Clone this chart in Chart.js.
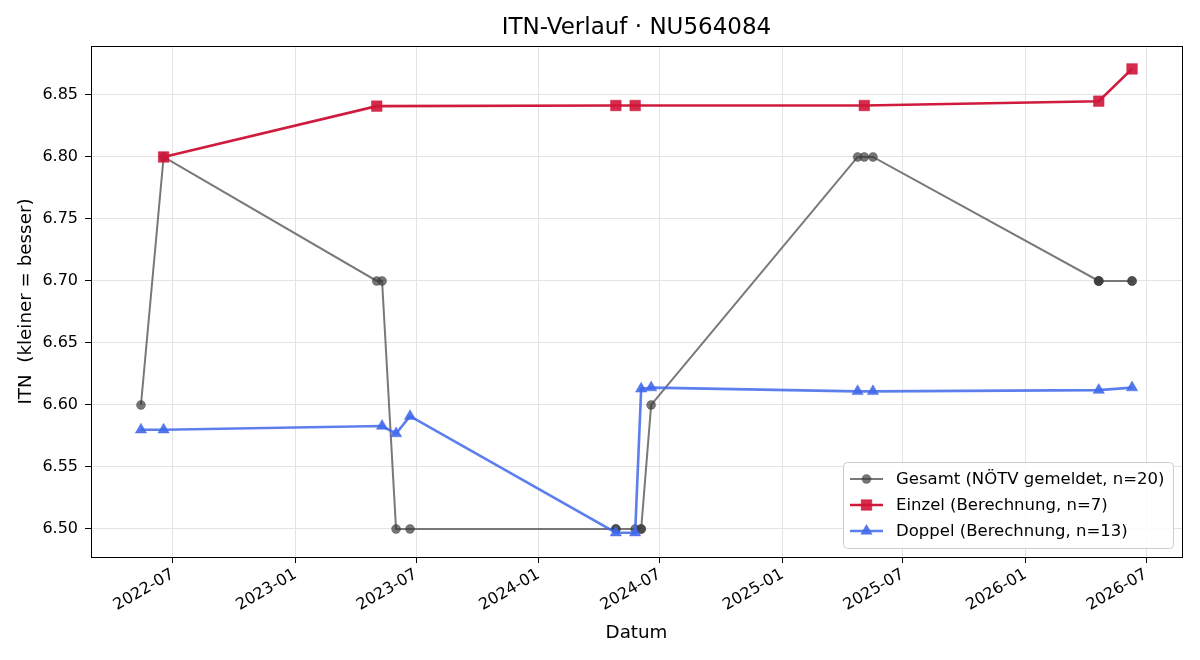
<!DOCTYPE html>
<html>
<head>
<meta charset="utf-8">
<script src="https://cdn.jsdelivr.net/npm/chart.js@4.4.1/dist/chart.umd.min.js"></script>
<style>
  html, body { margin: 0; padding: 0; background: #fff; }
  #c { display: block; }
</style>
</head>
<body>
<canvas id="c" width="1200" height="660"></canvas>
<script>
// Werte
const gesamtDates = ['2022-05-14','2022-06-17','2023-05-03','2023-05-11','2023-06-01','2023-06-22',
  '2024-04-26','2024-04-26','2024-05-25','2024-06-03','2024-06-03','2024-06-18',
  '2025-04-24','2025-05-04','2025-05-17','2026-04-21','2026-04-21','2026-04-21','2026-06-10','2026-06-10'];
const gesamtValues = [6.60, 6.80, 6.70, 6.70, 6.50, 6.50,
  6.50, 6.50, 6.50, 6.50, 6.50, 6.60,
  6.80, 6.80, 6.80, 6.70, 6.70, 6.70, 6.70, 6.70];

const einzelDates = ['2022-06-17','2023-05-03','2024-04-26','2024-05-25','2025-05-04','2026-04-21','2026-06-10'];
const einzelValues = [6.800, 6.841, 6.8415, 6.8415, 6.8415, 6.845, 6.871];

const doppelDates = ['2022-05-14','2022-06-17','2023-05-11','2023-06-01','2023-06-22','2024-04-26','2024-05-25',
  '2024-06-03','2024-06-18','2025-04-24','2025-05-17','2026-04-21','2026-06-10'];
const doppelValues = [6.580, 6.580, 6.583, 6.577, 6.591, 6.497, 6.497,
  6.613, 6.614, 6.611, 6.611, 6.612, 6.614];

const xTickLabels = ['2022-07','2023-01','2023-07','2024-01','2024-07','2025-01','2025-07','2026-01','2026-07'];
const yTicks = [6.50, 6.55, 6.60, 6.65, 6.70, 6.75, 6.80, 6.85];

const legendLabels = ['Gesamt (NÖTV gemeldet, n=20)', 'Einzel (Berechnung, n=7)', 'Doppel (Berechnung, n=13)'];

function ts(s) {
  const p = s.split('-').map(Number);
  return Date.UTC(p[0], p[1] - 1, p[2] || 1);
}
function pts(dates, vals) {
  return dates.map(function (d, i) { return { x: ts(d), y: vals[i] }; });
}
function fmtMonth(v) {
  const d = new Date(v);
  return d.getUTCFullYear() + '-' + String(d.getUTCMonth() + 1).padStart(2, '0');
}

const FONT = 'DejaVu Sans';
const GRID = '#e3e3e3';

const styles = [
  { line: 'rgba(105,105,105,0.9)', fill: 'rgba(60,60,60,0.7)', style: 'circle', r: 4.5, w: 2 },
  { line: '#d01c3c', fill: 'rgba(208,20,56,0.9)', style: 'rect', r: 7.5, w: 2.6 },
  { line: 'rgba(65,105,235,0.85)', fill: 'rgba(65,105,235,0.9)', style: 'triangle', r: 6.5, w: 2.6 }
];

// Rahmen oben/rechts + Legende im Plot
const framePlugin = {
  id: 'frame',
  afterDraw(chart) {
    const ctx = chart.ctx, a = chart.chartArea;
    ctx.save();
    ctx.strokeStyle = '#000';
    ctx.lineWidth = 1;
    ctx.strokeRect(Math.round(a.left) + 0.5, Math.round(a.top) + 0.5,
      Math.round(a.right - a.left), Math.round(a.bottom - a.top));

    // Legende
    const bx = 843, by = 462, bw = 330, bh = 86, rr = 4;
    ctx.fillStyle = 'rgba(255,255,255,0.85)';
    ctx.strokeStyle = '#cccccc';
    ctx.beginPath();
    ctx.roundRect(bx + 0.5, by + 0.5, bw, bh, rr);
    ctx.fill();
    ctx.stroke();
    ctx.font = '16.5px "' + FONT + '"';
    ctx.textBaseline = 'middle';
    ctx.textAlign = 'left';
    legendLabels.forEach(function (lab, i) {
      const s = styles[i];
      const y = by + 17 + i * 26;
      ctx.strokeStyle = s.line;
      ctx.lineWidth = s.w;
      ctx.beginPath();
      ctx.moveTo(850, y);
      ctx.lineTo(883, y);
      ctx.stroke();
      ctx.fillStyle = s.fill;
      ctx.strokeStyle = s.fill;
      ctx.lineWidth = 0.5;
      Chart.helpers.drawPoint(ctx, { pointStyle: s.style, radius: s.r, borderWidth: 0.5, rotation: 0 }, 866.5, y);
      ctx.fillStyle = '#000';
      ctx.fillText(lab, 896, y + 1);
    });
    ctx.restore();
  }
};

function ds(label, data, s, order) {
  return {
    label: label, data: data, order: order,
    borderColor: s.line, borderWidth: s.w,
    pointStyle: s.style, pointRadius: s.r,
    pointBackgroundColor: s.fill, pointBorderColor: s.fill, pointBorderWidth: 0.5,
    tension: 0, fill: false
  };
}

new Chart(document.getElementById('c'), {
  type: 'line',
  data: {
    datasets: [
      ds(legendLabels[0], pts(gesamtDates, gesamtValues), styles[0], 3),
      ds(legendLabels[1], pts(einzelDates, einzelValues), styles[1], 2),
      ds(legendLabels[2], pts(doppelDates, doppelValues), styles[2], 1)
    ]
  },
  options: {
    responsive: false,
    animation: false,
    events: [],
    layout: { padding: { left: 0, right: 18, top: 0, bottom: 0 } },
    plugins: {
      legend: { display: false },
      tooltip: { enabled: false },
      title: {
        display: true,
        fullSize: false,
        text: 'ITN-Verlauf · NU564084',
        color: '#000',
        font: { family: FONT, size: 23, weight: 'normal', lineHeight: 1.2 },
        padding: { top: 14, bottom: 4.4 }
      }
    },
    scales: {
      x: {
        type: 'linear',
        min: ts('2022-02-28'),
        max: ts('2026-08-24'),
        afterBuildTicks(s) { s.ticks = xTickLabels.map(function (t) { return { value: ts(t + '-01') }; }); },
        afterFit(s) { s.height = 103; },
        ticks: {
          callback: function (v) { return fmtMonth(v); },
          minRotation: 30, maxRotation: 30,
          color: '#000', padding: 2,
          font: { family: FONT, size: 16 }
        },
        grid: { color: GRID, tickColor: '#000', tickLength: 6 },
        border: { color: '#000', width: 1 },
        title: {
          display: true, text: 'Datum', color: '#000',
          font: { family: FONT, size: 18.3, lineHeight: 1.2 },
          padding: { top: 0, bottom: 16 }
        }
      },
      y: {
        type: 'linear',
        min: 6.4774,
        max: 6.8895,
        afterBuildTicks(s) { s.ticks = yTicks.map(function (v) { return { value: v }; }); },
        afterFit(s) { s.width = 91; },
        ticks: {
          callback: function (v) { return v.toFixed(2); },
          color: '#000', padding: 7,
          font: { family: FONT, size: 16 }
        },
        grid: { color: GRID, tickColor: '#000', tickLength: 6 },
        border: { color: '#000', width: 1 },
        title: {
          display: true, text: 'ITN  (kleiner = besser)', color: '#000',
          font: { family: FONT, size: 18.3, lineHeight: 1.2 },
          padding: { top: 15, bottom: 0 }
        }
      }
    }
  },
  plugins: [framePlugin]
});
</script>
</body>
</html>
